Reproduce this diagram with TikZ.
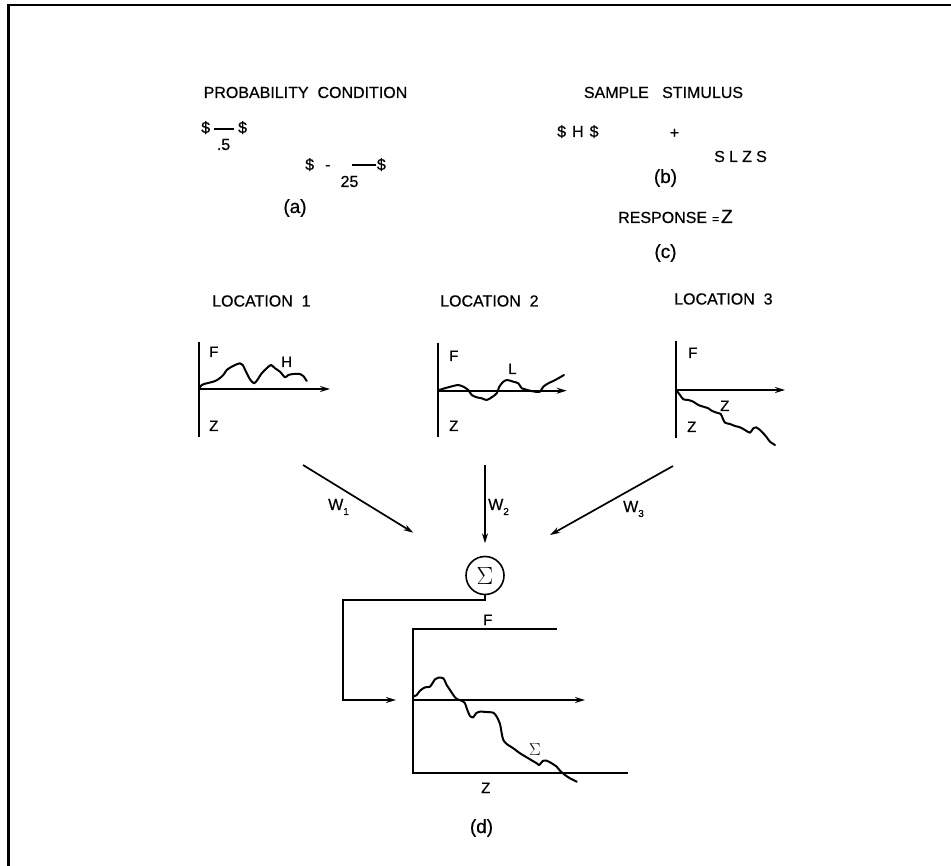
\documentclass[tikz,border=0pt]{standalone}
\usepackage{fontspec}
\setmainfont{Liberation Sans}[FakeBold=0.6]
\usetikzlibrary{arrows.meta}
\newcommand{\myfs}[1]{\fontsize{#1}{#1}\selectfont}
\begin{document}
\begin{tikzpicture}[x=1pt,y=-1pt,
  txt/.style={inner sep=0pt,font=\myfs{16}},
  lbl/.style={inner sep=0pt,font=\myfs{15}},
  tag/.style={inner sep=0pt,font=\myfs{19}},
  axis/.style={line width=2.2pt},
  arr/.style={line width=1.7pt,-{Stealth[length=10pt,width=6pt]}},
  axarr/.style={line width=2.2pt,-{Stealth[length=10pt,width=6pt]}},
  curve/.style={line width=2pt,line join=round,line cap=round}]
\useasboundingbox (0,0) rectangle (951,866);
% frame
\draw[line width=2.6pt] (8.7,866) -- (8.7,5) -- (951,5);

% (a) probability condition
\node[txt,anchor=base] (pc) at (305.5,98) {PROBABILITY\ \ CONDITION};
\node[txt,anchor=base west] (p1) at (201,133) {\$\hspace{4pt}\rule[3.2pt]{20pt}{1.7pt}\hspace{4pt}\$};
\node[txt,anchor=base] (p1v) at (223.5,150) {.5};
\node[txt,anchor=base west] (p2) at (305,170) {\$\hspace{11pt}-\hspace{21.5pt}\rule[4.2pt]{24pt}{1.5pt}\hspace{1pt}\$};
\node[txt,anchor=base] (p2v) at (349.5,187) {25};
\node[tag,anchor=base] (ta) at (295,213) {(a)};

% (b) sample stimulus
\node[txt,anchor=base] (ss) at (663.5,98) {SAMPLE\ \ \ STIMULUS};
\node[txt,anchor=base west] (sh) at (557,137) {\$\hspace{6pt}H\hspace{6pt}\$};
\node[txt] (plus) at (674.5,133.5) {+};
\node[txt,anchor=base west] (slzs) at (714,162) {S\hspace{4.2pt}L\hspace{4.2pt}Z\hspace{4.2pt}S};
\node[tag,anchor=base] (tb) at (665.5,183) {(b)};

% (c) response
\node[txt,anchor=base west] (resp) at (618,223) {RESPONSE\hspace{5pt}{\myfs{12}=}\hspace{2pt}{\myfs{19}Z}};
\node[tag,anchor=base] (tc) at (665.5,258) {(c)};

% locations
\node[txt,anchor=base west] (l1) at (212,306.5) {LOCATION\ \ 1};
\node[txt,anchor=base west] (l2) at (440,306.5) {LOCATION\ \ 2};
\node[txt,anchor=base west] (l3) at (674,304.5) {LOCATION\ \ 3};

% location 1 graph
\coordinate (a1t) at (199.3,342);
\coordinate (a1b) at (199.3,437);
\coordinate (a1o) at (199.3,389);
\coordinate (a1r) at (330,389);
\draw[axis] (a1t) -- (a1b);
\draw[axarr] (a1o) -- (a1r);
\node[lbl,anchor=base west] (f1) at (209,357) {F};
\node[lbl,anchor=base west] (z1) at (209,431) {Z};
\node[lbl,anchor=base west] (h1) at (281,367) {H};
\draw[curve] plot[smooth,tension=0.45] coordinates {(199.3,388.3) (201.7,385) (206.7,383.3) (213.3,381.7) (218.3,379.3) (223.3,375) (226.7,370) (231.7,366.7) (235,365) (240,363.3) (242.7,365) (246,371.7) (250,379.3) (254,383.3) (257.3,380) (261.7,373.3) (266.7,368.3) (271,365) (275,368.3) (280,371.7) (285,377.3) (288.3,375) (293.3,374) (300,374) (303.3,376) (306.7,381)};

% location 2 graph
\coordinate (a2t) at (438.3,343);
\coordinate (a2b) at (438.3,437);
\coordinate (a2o) at (438.3,390.7);
\coordinate (a2r) at (566.7,390.7);
\draw[axis] (a2t) -- (a2b);
\draw[axarr] (a2o) -- (a2r);
\node[lbl,anchor=base west] (f2) at (449,361) {F};
\node[lbl,anchor=base west] (z2) at (449,431) {Z};
\node[lbl,anchor=base west] (ll2) at (508,374) {L};
\draw[curve] plot[smooth,tension=0.45] coordinates {(439.3,390) (446.7,387.7) (453.3,386) (458.3,385) (463.3,386.7) (468.3,390) (471.7,395) (476.7,397.3) (481.7,398.3) (486.7,400) (491.7,397.3) (496.7,393.3) (499.3,386.7) (503.3,381.7) (507.3,380) (513.3,381.7) (518.3,383.3) (521.7,388.3) (525,389.3) (530,390.7) (535,391.7) (540,391.7) (543.3,386.7) (548.3,383.3) (553.3,381) (558.3,378.3) (564,375)};

% location 3 graph
\coordinate (a3t) at (676,341);
\coordinate (a3b) at (676,438);
\coordinate (a3o) at (676,390);
\coordinate (a3r) at (785,390);
\draw[axis] (a3t) -- (a3b);
\draw[axarr] (a3o) -- (a3r);
\node[lbl,anchor=base west] (f3) at (688,358) {F};
\node[lbl,anchor=base west] (z3) at (687,432) {Z};
\node[lbl,anchor=base west] (zz3) at (720,411) {Z};
\draw[curve] plot[smooth,tension=0.45] coordinates {(676.7,390.7) (680,395) (683.3,399.3) (688.3,400) (693.3,401.7) (698.3,405) (703.3,406.7) (708.3,408.3) (711.7,410.7) (716.7,412.7) (720.7,414) (722.7,418.3) (725,422.7) (730,424) (735,426) (740,427.3) (745,430) (750,432.7) (753.3,428.3) (756,427.3) (760,430) (763.3,433.3) (766.7,437.3) (770,441.7) (775,445)};

% weights and sum
\node[circle,draw,line width=1.6pt,minimum size=38pt,inner sep=0pt,font=\myfs{26}] (sig) at (485,575.5) {$\Sigma$};
\coordinate (w1s) at (303,465);
\coordinate (w1e) at (413.3,532.7);
\coordinate (w2s) at (485,465);
\coordinate (w2e) at (485,543.3);
\coordinate (w3s) at (673,466);
\coordinate (w3e) at (550,535);
\draw[arr] (w1s) -- (w1e);
\draw[arr] (w2s) -- (w2e);
\draw[arr] (w3s) -- (w3e);
\node[txt,anchor=base west] (wl1) at (328,510) {W\raisebox{-5pt}{\myfs{10}1}};
\node[txt,anchor=base west] (wl2) at (488,510) {W\raisebox{-5pt}{\myfs{10}2}};
\node[txt,anchor=base west] (wl3) at (623,512) {W\raisebox{-5pt}{\myfs{10}3}};

% output path
\coordinate (c1) at (342.7,600);
\coordinate (c2) at (342.7,700);
\coordinate (c3) at (396,700);
\draw[line width=2pt,-{Stealth[length=10pt,width=6pt]}] (sig.south) |- (c1) -- (c2) -- (c3);

% (d) summed graph
\coordinate (ftl) at (413.3,629.3);
\coordinate (ftr) at (556.7,629.3);
\coordinate (fbl) at (413.3,773.3);
\coordinate (fbr) at (628.3,773.3);
\coordinate (fml) at (413.3,700);
\coordinate (fmr) at (585,700);
\draw[axis] (ftr) -- (ftl) -- (fbl) -- (fbr);
\draw[axarr] (fml) -- (fmr);
\node[lbl,anchor=base west] (fd) at (483,625) {F};
\node[lbl,anchor=base west] (zd) at (481,793) {Z};
\node[inner sep=0pt,font=\myfs{17},anchor=base west] (sd) at (529,755) {$\Sigma$};
\draw[curve] plot[smooth,tension=0.45] coordinates {(413.3,696.7) (416.7,695) (420,690.7) (425,687.3) (430,686.7) (435,679.3) (438.3,677.7) (443.3,678.3) (446.7,685) (450,690) (453.3,695) (456.7,699) (461.7,700.7) (465,703.3) (466.7,708.3) (470,716) (473.3,717.3) (476,713.3) (480,711.7) (486.7,712) (493.3,712.7) (496.7,716.7) (500,724) (501.7,733.3) (503.3,740) (506.7,744) (513.3,748.3) (520,753.3) (528.3,758.3) (536.7,763.3) (539.3,765) (542.7,761) (546.7,760.7) (551.7,763.3) (556.7,766.7) (560,770.7) (565,775) (570,778.3) (576.7,781.7)};
\node[tag,anchor=base] (td) at (481.5,833) {(d)};
\end{tikzpicture}
\end{document}
